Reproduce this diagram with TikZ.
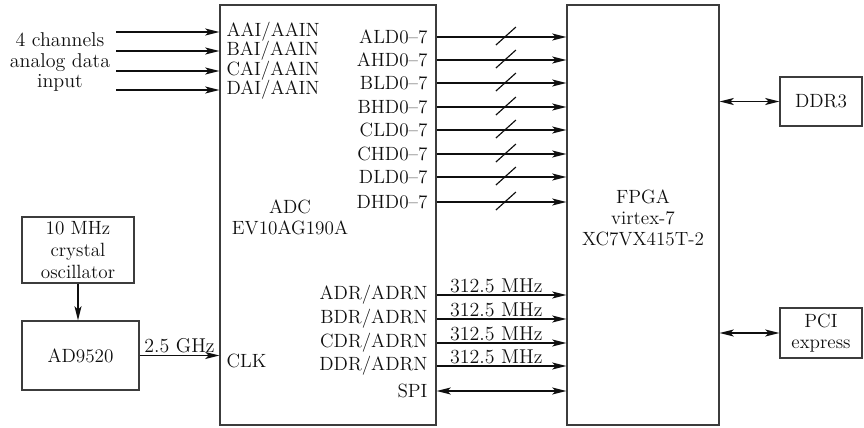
\documentclass[tikz,border=0pt]{standalone}
\usepackage{tikz}
\usetikzlibrary{arrows.meta,positioning,calc}
\definecolor{ink}{RGB}{15,15,15}
\definecolor{frame}{RGB}{60,60,60}
\tikzset{
  every picture/.style={color=ink, line width=1pt, font=\fontsize{11.5}{12.5}\selectfont},
  box/.style={draw=frame, line width=0.7pt, inner sep=0pt, align=center},
  pinl/.style={anchor=west, inner sep=1pt},
  pinr/.style={anchor=east, inner sep=1pt},
  flow/.style={-{Stealth[length=8.5pt,width=4.2pt,inset=2pt]}, line width=1pt},
  both/.style={{Stealth[length=8.5pt,width=4.2pt,inset=2pt]}-{Stealth[length=8.5pt,width=4.2pt,inset=2pt]}, line width=1pt},
  bus/.style={line width=0.7pt},
  rate/.style={above, inner sep=1pt, font=\fontsize{12}{13}\selectfont},
}

\begin{document}
\begin{tikzpicture}[x=0.6pt, y=-0.6pt]
  \useasboundingbox (0,0) rectangle (864,427);
  % blocks
  \node[box, minimum width=129.6pt, minimum height=252pt] (adc) at (328,215) {};
  \node[box, minimum width=91.2pt, minimum height=252pt] (fpga) at (643,215) {};
  \node[box, minimum width=49.2pt, minimum height=29.4pt] (mem) at (821,101.5) {DDR3};
  \node[box, minimum width=49.2pt, minimum height=30pt, font=\fontsize{11.5}{13}\selectfont] (pcie) at (821,333) {PCI\\ express};
  \node[box, minimum width=67.2pt, minimum height=39.6pt, font=\fontsize{11.5}{13}\selectfont] (osc) at (78,250) {10 MHz\\ crystal\\ oscillator};
  \node[box, minimum width=70.2pt, minimum height=41.4pt] (pll) at (80.5,355.5) {AD9520};
  \node[align=center] (adcname) at (290,217) {ADC\\ EV10AG190A};
  \node[align=center] (fpganame) at (643,218) {FPGA\\ virtex-7\\ XC7VX415T-2};
  \node[align=center, font=\fontsize{12}{12.5}\selectfont] (inp) at (60,62) {4 channels\\ analog data\\ input};

  % analog inputs
  \coordinate (src) at (116,0);
  \foreach \n/\t/\y in {aai/AAI/32, bai/BAI/51, cai/CAI/71, dai/DAI/90} {
    \node[pinl] (\n) at (224,\y) {\t/AAIN};
    \draw[flow] (src |- \n) -- (adc.west |- \n);
  }

  % data buses
  \foreach \n/\t/\y in {ald/ALD/37, ahd/AHD/60, bld/BLD/83, bhd/BHD/107, cld/CLD/130, chd/CHD/154, dld/DLD/177, dhd/DHD/202} {
    \node[pinr] (\n) at (430,\y) {\t0--7};
    \draw[flow] (adc.east |- \n) -- (fpga.west |- \n) coordinate[pos=0.534] (s\n);
    \draw[bus] ($(s\n)+(-10,8)$) -- ++(20,-18);
  }

  % data clocks and SPI
  \foreach \n/\t/\y in {ra/ADR/295, rb/BDR/319, rc/CDR/343, rd/DDR/366} {
    \node[pinr] (\n) at (430,\y) {\t/ADRN};
    \draw[flow] (adc.east |- \n) -- node[rate, pos=0.46] {312.5 MHz} (fpga.west |- \n);
  }
  \node[pinr] (spi) at (430,391) {SPI};
  \draw[both] (adc.east |- spi) -- (fpga.west |- spi);

  % clock chain
  \node[pinl] (clk) at (224,361) {CLK};
  \draw[flow] (osc.south) -- (pll.north -| osc.south);
  \draw[flow] (pll.east) -- node[rate] {2.5 GHz} (pll.east -| adc.west);

  % memory and host
  \draw[both] (fpga.east |- mem) -- (mem.west);
  \draw[both] (fpga.east |- pcie) -- (pcie.west);
\end{tikzpicture}
\end{document}
